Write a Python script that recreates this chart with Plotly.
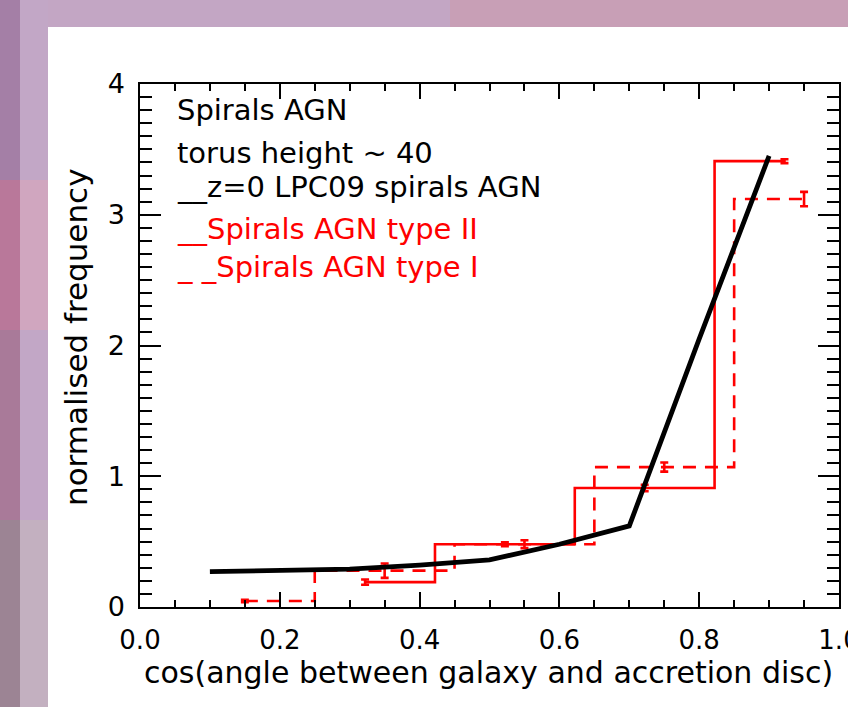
import plotly.graph_objects as go

# ---- data ----
lpc_x = [0.1, 0.2, 0.3, 0.4, 0.5, 0.6, 0.7, 0.8, 0.9]
lpc_y = [0.27, 0.28, 0.29, 0.32, 0.36, 0.48, 0.62, 2.05, 3.45]

t2_x = [0.322, 0.522, 0.722, 0.922]
t2_y = [0.19, 0.48, 0.91, 3.41]
t2_err = [0.02, 0.015, 0.025, 0.015]

t1_x = [0.15, 0.35, 0.55, 0.75, 0.95]
t1_y = [0.046, 0.278, 0.48, 1.07, 3.12]
t1_err = [0.01, 0.055, 0.03, 0.035, 0.055]

x_ticks = [0.0, 0.2, 0.4, 0.6, 0.8, 1.0]
y_ticks = [0, 1, 2, 3, 4]

x_title = "cos(angle between galaxy and accretion disc)"
y_title = "normalised frequency"

legend_lines = [
    ("Spirals AGN", "black"),
    ("torus height ~ 40", "black"),
    ("__z=0 LPC09 spirals AGN", "black"),
    ("__Spirals AGN type II", "red"),
    ("_ _Spirals AGN type I", "red"),
]
legend_y = [3.80, 3.47, 3.21, 2.89, 2.60]

FONT = "DejaVu Sans"
RED = "#ff0000"

fig = go.Figure()

fig.add_trace(go.Scatter(
    x=t1_x, y=t1_y, mode="lines", line=dict(color=RED, width=2.6, dash="13px,9px", shape="hvh"),
    error_y=dict(type="data", array=t1_err, color=RED, thickness=2.6, width=4),
    showlegend=False, hoverinfo="skip"))

fig.add_trace(go.Scatter(
    x=t2_x, y=t2_y, mode="lines", line=dict(color=RED, width=2.6, shape="hvh"),
    error_y=dict(type="data", array=t2_err, color=RED, thickness=2.6, width=4),
    showlegend=False, hoverinfo="skip"))

fig.add_trace(go.Scatter(
    x=lpc_x, y=lpc_y, mode="lines", line=dict(color="black", width=4.8),
    showlegend=False, hoverinfo="skip"))

for (txt, col), yy in zip(legend_lines, legend_y):
    fig.add_annotation(x=0.05, y=yy, xref="x", yref="y", text=txt, showarrow=False,
                       xanchor="left", yanchor="middle",
                       font=dict(family=FONT, size=29, color=col))

# background: purple slide strip + white panel
L, R, T, B = 140, 9, 84, 100
W, H = 848, 707
pw, ph = W - L - R, H - T - B

def px2paper_x(px):
    return (px - L) / pw

def py2paper_y(py):
    return (H - B - py) / ph

# axis titles as annotations for precise placement
fig.add_annotation(x=px2paper_x(488), y=py2paper_y(672), xref="paper", yref="paper",
                   text=x_title, showarrow=False, xanchor="center", yanchor="middle",
                   font=dict(family=FONT, size=30, color="black"))
fig.add_annotation(x=px2paper_x(76), y=py2paper_y(338), xref="paper", yref="paper",
                   text=y_title, showarrow=False, xanchor="center", yanchor="middle",
                   textangle=-90, font=dict(family=FONT, size=31, color="black"))

bands = [
    (0, 0, 848, 27, "#c3a6c4"),
    (0, 0, 20, 707, "#a47fa6"),
    (20, 0, 48, 707, "#c2a7c6"),
    (0, 180, 20, 330, "#b9789a"),
    (20, 180, 48, 330, "#d0a6bf"),
    (0, 330, 20, 520, "#a97a99"),
    (0, 520, 20, 707, "#9c8494"),
    (20, 520, 48, 707, "#c3b0c0"),
    (450, 0, 848, 27, "#c89fb6"),
    (48, 27, 848, 707, "#ffffff"),
]
for x0, y0, x1, y1, c in bands:
    fig.add_shape(type="rect", xref="paper", yref="paper",
                  x0=px2paper_x(x0), x1=px2paper_x(x1),
                  y0=py2paper_y(y1), y1=py2paper_y(y0),
                  fillcolor=c, line=dict(width=0), layer="below")

axis_common = dict(showline=True, linecolor="black", linewidth=1.5, mirror="allticks",
                   ticks="inside", tickcolor="black", tickwidth=1.5, showgrid=False,
                   zeroline=False, ticklabeloverflow="allow")

fig.update_xaxes(range=[0, 1], tickvals=x_ticks, ticktext=[f"{v:.1f}" for v in x_ticks],
                 ticklen=15, ticklabelstandoff=9,
                 tickfont=dict(family=FONT, size=26, color="black"),
                 minor=dict(dtick=0.05, tick0=0, ticklen=7, ticks="inside", tickcolor="black", tickwidth=1.5),
                 **axis_common)
fig.update_yaxes(range=[0, 4], tickvals=y_ticks, ticktext=[str(v) for v in y_ticks],
                 ticklen=21, ticklabelstandoff=8,
                 tickfont=dict(family=FONT, size=27, color="black"),
                 minor=dict(dtick=0.1, tick0=0, ticklen=12, ticks="inside", tickcolor="black", tickwidth=1.5),
                 **axis_common)

fig.update_layout(width=W, height=H, margin=dict(l=L, r=R, t=T, b=B, autoexpand=False),
                  paper_bgcolor="#b893b3", plot_bgcolor="white",
                  font=dict(family=FONT, color="black"))

fig.write_html("out.html", config={"displayModeBar": False},
               post_script="document.body.style.margin='0';document.body.style.overflow='hidden';")
